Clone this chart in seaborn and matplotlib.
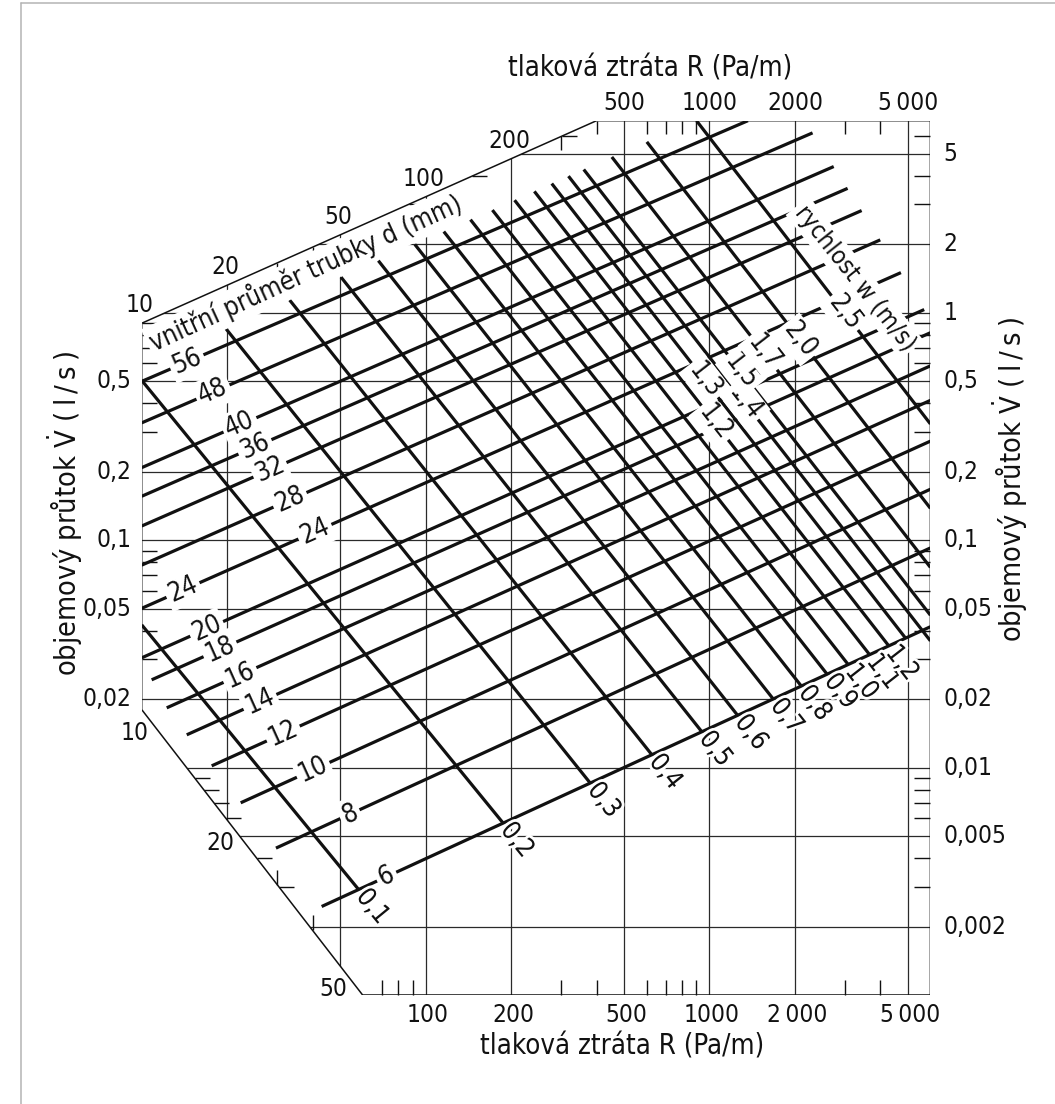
import numpy as np
import pandas as pd
import matplotlib
matplotlib.use("Agg")
import matplotlib.pyplot as plt
import matplotlib.patheffects as pe
from matplotlib import font_manager
from matplotlib.patches import Polygon
from matplotlib.lines import Line2D
import seaborn as sns

# ---------------- axes ranges and outline ----------------
R_MIN, R_MAX = 10, 6000          # pressure loss R (Pa/m)
V_MIN, V_MAX = 0.001, 7          # volume flow V (l/s)

outline_R = [10, 400, 6000, 6000, 60, 10]
outline_V = [0.9, 7, 7, 0.001, 0.001, 0.018]

grid_R = [20, 50, 100, 200, 500, 1000, 2000, 5000]
grid_V = [5, 2, 1, 0.5, 0.2, 0.1, 0.05, 0.02, 0.01, 0.005, 0.002]

bottom_R = [100, 200, 500, 1000, 2000, 5000]
bottom_text = ["100", "200", "500", "1000", "2\u2009000", "5\u2009000"]
top_R = [500, 1000, 2000, 5000]
top_text = ["500", "1000", "2000", "5\u2009000"]
upper_edge_R = [10, 20, 50, 100, 200]
lower_edge_R = [10, 20, 50]
right_V = [5, 2, 1, 0.5, 0.2, 0.1, 0.05, 0.02, 0.01, 0.005, 0.002]
right_text = ["5", "2", "1", "0,5", "0,2", "0,1", "0,05", "0,02", "0,01", "0,005", "0,002"]
left_V = [0.5, 0.2, 0.1, 0.05, 0.02]
left_text = ["0,5", "0,2", "0,1", "0,05", "0,02"]

# minor ticks along each edge
left_minor_V = [0.9, 0.8, 0.7, 0.6, 0.4, 0.3, 0.09, 0.08, 0.07, 0.06, 0.04, 0.03]
right_minor_V = [6, 4, 3, 0.9, 0.8, 0.7, 0.6, 0.4, 0.3, 0.09, 0.08, 0.07, 0.06,
                 0.04, 0.03, 0.009, 0.008, 0.007, 0.006, 0.004, 0.003]
top_minor_R = [400, 600, 700, 800, 900, 3000, 4000]
bottom_minor_R = [70, 80, 90, 300, 400, 600, 700, 800, 900, 3000, 4000]
upper_edge_minor_V = [3, 4, 6]
upper_edge_minor_R = [30, 40, 300]
lower_edge_minor_V = [0.009, 0.008, 0.007, 0.006, 0.004, 0.003]
lower_edge_minor_R = [30, 40]

# ---------------- inner pipe diameter lines d (mm) ----------------
d_values = [56, 48, 40, 36, 32, 28, 24, 20, 18, 16, 14, 12, 10, 8, 6]
d_R0 = [10, 10, 10, 10, 10, 10, 10, 10, 10.84, 12.25, 14.41, 17.64, 22.32, 29.71, 43.04]
d_V0 = [0.4996, 0.3283, 0.2086, 0.1561, 0.1155, 0.07771, 0.05019, 0.03040,
        0.02433, 0.01832, 0.01394, 0.01018, 0.007003, 0.004426, 0.002450]
d_R1 = [1366, 2307, 2739, 3066, 3435, 3995, 4724, 5706, 6000, 6000, 6000, 6000,
        6000, 6000, 6000]
d_V1 = [7.0, 6.188, 4.400, 3.528, 2.818, 2.094, 1.503, 1.034,
        0.8177, 0.5847, 0.4122, 0.2728, 0.1676, 0.09250, 0.04165]

d_label_value = [56, 48, 40, 36, 32, 28, 24, 24, 20, 18, 16, 14, 12, 10, 8, 6]
d_label_R = [14.44, 17.83, 22.19, 25.06, 28.30, 33.29, 13.98, 40.75,
             16.94, 18.87, 22.19, 26.10, 31.52, 40.19, 54.13, 72.91]

# ---------------- flow velocity lines w (m/s) ----------------
w_values = [0.1, 0.2, 0.3, 0.4, 0.5, 0.6, 0.7, 0.8, 0.9, 1.0, 1.1, 1.2,
            1.3, 1.4, 1.5, 1.7, 2.0, 2.5]
w_text = ["0,1", "0,2", "0,3", "0,4", "0,5", "0,6", "0,7", "0,8", "0,9", "1,0",
          "1,1", "1,2", "1,3", "1,4", "1,5", "1,7", "2,0", "2,5"]
w_R0 = [10, 10, 19.76, 33.18, 50.37, 68.16, 91.62, 115.9, 143.9, 171.9, 205.8,
        241.6, 278.2, 318.6, 360.6, 452.9, 601.6, 900]
w_V0 = [0.04246, 0.505, 0.8546, 1.1394, 1.4355, 1.6965, 2.0011, 2.278, 2.570,
        2.832, 3.130, 3.422, 3.704, 3.993, 4.272, 4.848, 5.649, 7.0]
w_R1 = [58.09, 187.5, 379.8, 625.9, 938.8, 1255, 1675, 2103, 2593, 3076, 3659,
        4275, 4899, 6000, 6000, 6000, 6000, 6000]
w_V1 = [0.002910, 0.005705, 0.008564, 0.01141, 0.01440, 0.01701, 0.02007,
        0.02289, 0.02580, 0.02846, 0.03146, 0.03439, 0.03718, 0.03610,
        0.04681, 0.07596, 0.1381, 0.3247]

# velocities labelled past the lower end, and the ones labelled mid-line
w_end_labelled = [0.1, 0.2, 0.3, 0.4, 0.5, 0.6, 0.7, 0.8, 0.9, 1.0, 1.1, 1.2]
w_mid_label_value = [1.2, 1.3, 1.4, 1.5, 1.7, 2.0, 2.5]
w_mid_label_R = [1044, 962.6, 1331, 1289, 1553, 2080, 2995]

# ---------------- style ----------------
entries = font_manager.fontManager.ttflist
names = {f.name for f in entries}
condensed = any(f.name == "DejaVu Sans" and str(f.stretch) in ("condensed", "semi-condensed")
                for f in entries)
sns.set_theme(style="white")
if "Liberation Sans Narrow" in names:
    FONT, K = "Liberation Sans Narrow", 1.22
    plt.rcParams["font.family"] = [FONT, "DejaVu Sans"]
elif condensed:
    FONT, K = "DejaVu Sans", 1.1
    plt.rcParams["font.family"] = [FONT]
    plt.rcParams["font.stretch"] = "condensed"
else:
    FONT, K = "DejaVu Sans", 1.0
    plt.rcParams["font.family"] = [FONT]
plt.rcParams["mathtext.fontset"] = "custom"
plt.rcParams["mathtext.rm"] = FONT

FS_TICK = 16 * K
FS_TITLE = 18 * K
FS_LINE = 17 * K
FS_CAP = 16.8 * K

INK = "#111111"
GRID = "#2a2a2a"
HEAVY = 2.3

W, H = 1055, 1104
fig = plt.figure(figsize=(W / 100, H / 100), dpi=100, facecolor="white")

# thin page frame
fig.add_artist(Line2D([21 / W, 21 / W], [0, 1 - 3 / H], transform=fig.transFigure,
                      color="#b4b4b4", lw=1.1))
fig.add_artist(Line2D([21 / W, 1], [1 - 3 / H, 1 - 3 / H], transform=fig.transFigure,
                      color="#b4b4b4", lw=1.1))

ax = fig.add_axes([141.7 / W, 1 - 995 / H, (930.4 - 141.7) / W, (995 - 120.7) / H])
ax.set_xscale("log")
ax.set_yscale("log")
ax.set_xlim(R_MIN, R_MAX)
ax.set_ylim(V_MIN, V_MAX)
ax.set_axis_off()

outline = Polygon(np.column_stack([outline_R, outline_V]), closed=True, fill=False,
                  edgecolor=INK, linewidth=1.1, zorder=4, transform=ax.transData)
ax.add_patch(outline)


def to_px(R, V):
    return ax.transData.transform((R, V))


def from_px(x, y):
    return ax.transData.inverted().transform((x, y))


def on_line(R, R0, V0, R1, V1):
    t = (np.log10(R) - np.log10(R0)) / (np.log10(R1) - np.log10(R0))
    return 10 ** (np.log10(V0) + t * (np.log10(V1) - np.log10(V0)))


def angle(R0, V0, R1, V1):
    (x0, y0), (x1, y1) = to_px(R0, V0), to_px(R1, V1)
    return np.degrees(np.arctan2(y1 - y0, x1 - x0))


def edge_R_at_V(V, p0, p1):
    t = (np.log10(V) - np.log10(p0[1])) / (np.log10(p1[1]) - np.log10(p0[1]))
    return 10 ** (np.log10(p0[0]) + t * (np.log10(p1[0]) - np.log10(p0[0])))


def edge_V_at_R(R, p0, p1):
    t = (np.log10(R) - np.log10(p0[0])) / (np.log10(p1[0]) - np.log10(p0[0]))
    return 10 ** (np.log10(p0[1]) + t * (np.log10(p1[1]) - np.log10(p0[1])))


def tick(R, V, dx, dy):
    x, y = to_px(R, V)
    R1, V1 = from_px(x + dx, y + dy)
    ax.plot([R, R1], [V, V1], color=INK, lw=1.0, solid_capstyle="butt",
            zorder=4, clip_on=False)


def px_label(R, V, s, dx, dy, ha="center", va="center"):
    ax.annotate(s, (R, V), xytext=(dx, dy), textcoords="offset pixels",
                ha=ha, va=va, fontsize=FS_TICK, color=INK, annotation_clip=False)


box = dict(boxstyle="square,pad=0.12", facecolor="white", edgecolor="none")
halo = [pe.withStroke(linewidth=4, foreground="white")]


def line_label(R, V, s, rot, boxed=True):
    t = ax.text(R, V, s, rotation=rot, rotation_mode="anchor", ha="center",
                va="center", fontsize=FS_LINE, color=INK, zorder=6,
                bbox=box if boxed else None)
    if not boxed:
        t.set_path_effects(halo)


# ---------------- grid ----------------
for R in grid_R:
    g, = ax.plot([R, R], [V_MIN, V_MAX], color=GRID, lw=0.9, zorder=1)
    g.set_clip_path(outline)
for V in grid_V:
    g, = ax.plot([R_MIN, R_MAX], [V, V], color=GRID, lw=0.9, zorder=1)
    g.set_clip_path(outline)

# ---------------- nomogram lines ----------------
d_df = pd.DataFrame({
    "line": np.repeat(np.arange(len(d_values)), 2),
    "R": np.ravel(np.column_stack([d_R0, d_R1])),
    "V": np.ravel(np.column_stack([d_V0, d_V1])),
})
w_df = pd.DataFrame({
    "line": np.repeat(np.arange(len(w_values)), 2),
    "R": np.ravel(np.column_stack([w_R0, w_R1])),
    "V": np.ravel(np.column_stack([w_V0, w_V1])),
})
n_before = len(ax.lines)
sns.lineplot(data=d_df, x="R", y="V", units="line", estimator=None, sort=False,
             color=INK, lw=HEAVY, ax=ax, legend=False)
sns.lineplot(data=w_df, x="R", y="V", units="line", estimator=None, sort=False,
             color=INK, lw=HEAVY, ax=ax, legend=False)
for ln in ax.lines[n_before:]:
    ln.set_solid_capstyle("butt")
    ln.set_zorder(2)
    ln.set_clip_path(outline)
ax.set_xlim(R_MIN, R_MAX)
ax.set_ylim(V_MIN, V_MAX)
ax.set_xlabel("")
ax.set_ylabel("")

# diameter labels, written into the lines
for val, R in zip(d_label_value, d_label_R):
    i = d_values.index(val)
    V = on_line(R, d_R0[i], d_V0[i], d_R1[i], d_V1[i])
    line_label(R, V, str(val), angle(d_R0[i], d_V0[i], d_R1[i], d_V1[i]))

# velocity labels past the lower end of the line
for val in w_end_labelled:
    i = w_values.index(val)
    rot = angle(w_R0[i], w_V0[i], w_R1[i], w_V1[i])
    x0, y0 = to_px(w_R0[i], w_V0[i])
    x1, y1 = to_px(w_R1[i], w_V1[i])
    u = np.array([x1 - x0, y1 - y0]) / np.hypot(x1 - x0, y1 - y0)
    R, V = from_px(x1 + 22 * u[0], y1 + 22 * u[1])
    line_label(R, V, w_text[i], rot, boxed=False)

# velocity labels written into the upper part of the lines
for val, R in zip(w_mid_label_value, w_mid_label_R):
    i = w_values.index(val)
    V = on_line(R, w_R0[i], w_V0[i], w_R1[i], w_V1[i])
    line_label(R, V, w_text[i], angle(w_R0[i], w_V0[i], w_R1[i], w_V1[i]))

# family captions
ax.text(3248, 1.425, "rychlost w (m/s)", fontsize=FS_CAP * 0.96, color=INK,
        rotation=-51.5, rotation_mode="anchor", ha="center", va="center",
        bbox=box, zorder=6)
ax.text(37.86, 1.492, "vnitřní průměr trubky d (mm)", fontsize=FS_CAP, color=INK,
        rotation=angle(10, 0.9, 400, 7) + 0.6, rotation_mode="anchor",
        ha="center", va="center", bbox=box, zorder=6)

# ---------------- ticks ----------------
up_a, up_b = (10, 0.9), (400, 7)
lo_a, lo_b = (10, 0.018), (60, 0.001)
for V in left_minor_V:
    tick(R_MIN, V, 15, 0)
for V in right_minor_V:
    tick(R_MAX, V, -16, 0)
for R in top_minor_R:
    tick(R, V_MAX, 0, -13)
for R in bottom_minor_R:
    tick(R, V_MIN, 0, 15)
for V in upper_edge_minor_V:
    tick(edge_R_at_V(V, up_a, up_b), V, 15, 0)
for R in upper_edge_minor_R:
    tick(R, edge_V_at_R(R, up_a, up_b), 0, -14)
for V in lower_edge_minor_V:
    tick(edge_R_at_V(V, lo_a, lo_b), V, 15, 0)
for R in lower_edge_minor_R:
    tick(R, edge_V_at_R(R, lo_a, lo_b), 0, 15)

# ---------------- tick labels ----------------
for R, s in zip(bottom_R, bottom_text):
    px_label(R, V_MIN, s, 2, -20)
for R, s in zip(top_R, top_text):
    px_label(R, V_MAX, s, 0, 18)
for V, s in zip(right_V, right_text):
    px_label(R_MAX, V, s, 13, 0, ha="left")
for V, s in zip(left_V, left_text):
    px_label(R_MIN, V, s, -10, 0, ha="right")
for R in upper_edge_R:
    px_label(R, edge_V_at_R(R, up_a, up_b), str(R), -2, 18)
for R in lower_edge_R:
    px_label(R, edge_V_at_R(R, lo_a, lo_b), str(R), -7, -23)

# ---------------- axis titles ----------------
title_R = "tlaková ztráta R (Pa/m)"
title_V = "objemový průtok $\\dot{\\mathrm{V}}$ (\u2009l\u2009/\u2009s\u2009)"
fig.text(650 / W, 1 - 68 / H, title_R, ha="center", va="center", fontsize=FS_TITLE, color=INK)
fig.text(622 / W, 1 - 1047 / H, title_R, ha="center", va="center", fontsize=FS_TITLE, color=INK)
fig.text(65 / W, 1 - 513 / H, title_V, ha="center", va="center", rotation=90,
         fontsize=FS_TITLE * 1.05, color=INK)
fig.text(1010 / W, 1 - 479 / H, title_V, ha="center", va="center", rotation=90,
         fontsize=FS_TITLE * 1.05, color=INK)

fig.savefig("out.png", dpi=100, facecolor="white")
